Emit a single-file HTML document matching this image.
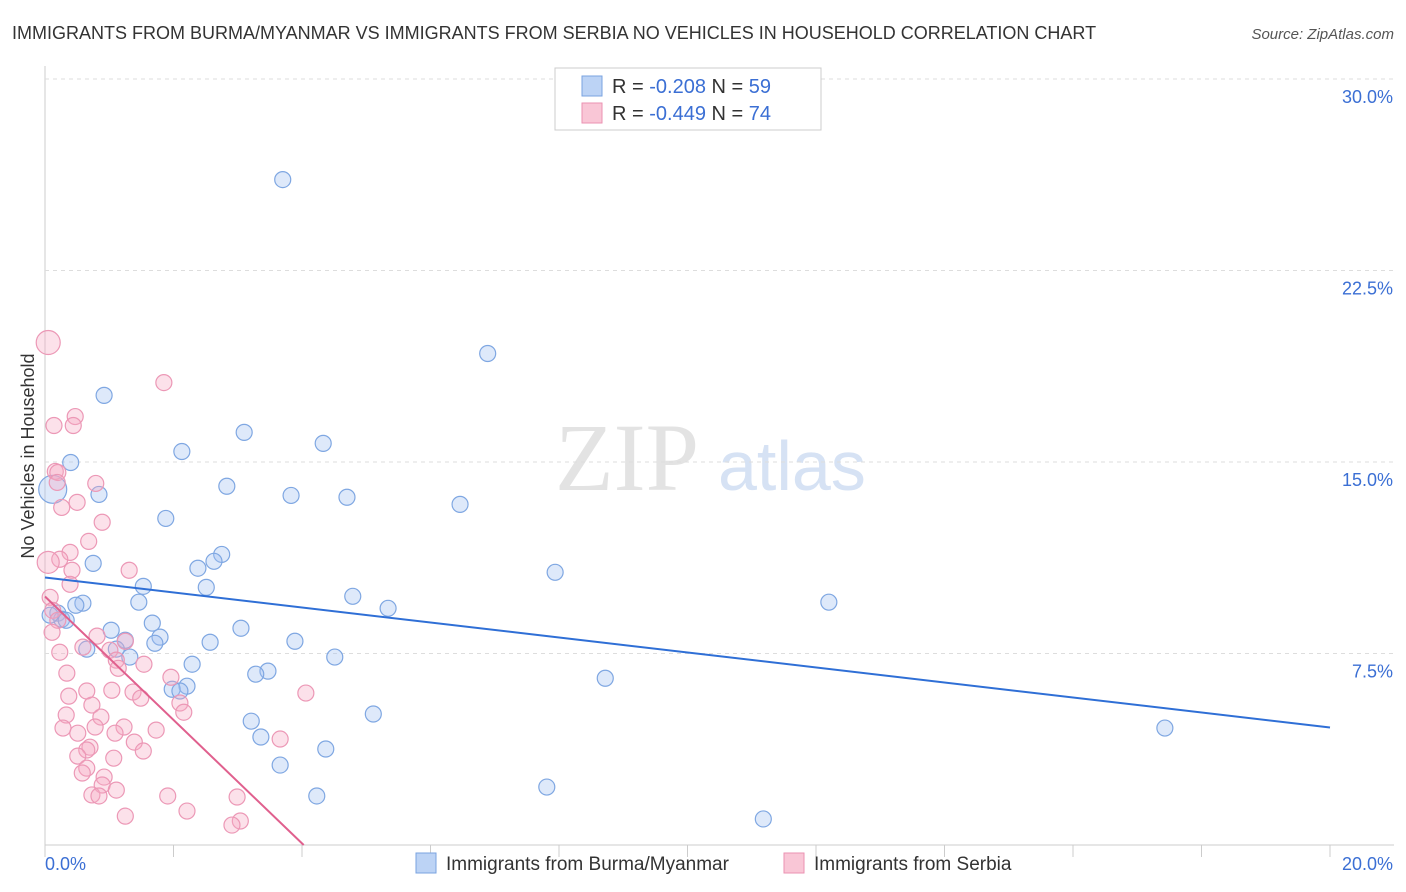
<!DOCTYPE html>
<html><head><meta charset="utf-8"><style>
body{margin:0;background:#fff;font-family:"Liberation Sans",sans-serif;}
#wrap{position:relative;width:1406px;height:892px;overflow:hidden}
</style></head><body>
<div id="wrap">
<svg id="chart" width="1406" height="892" style="position:absolute;left:0;top:0">
<text x="12" y="39" font-size="18" fill="#333">IMMIGRANTS FROM BURMA/MYANMAR VS IMMIGRANTS FROM SERBIA NO VEHICLES IN HOUSEHOLD CORRELATION CHART</text>
<text x="1394" y="39" font-size="15" fill="#555" font-style="italic" text-anchor="end">Source: ZipAtlas.com</text>
<text transform="translate(34,456) rotate(-90)" font-size="18" fill="#333" text-anchor="middle">No Vehicles in Household</text>
<g><text x="555" y="490" font-size="96" font-family="Liberation Serif,serif" fill="#e3e3e3">ZIP</text><text x="718" y="490" font-size="70" fill="#d6e2f4">atlas</text></g>
<g id="grid"></g><g id="marks"></g>
<g>
<rect x="555" y="68" width="266" height="62" fill="#fff" stroke="#ccc"/>
<rect x="582" y="76" width="20" height="20" fill="#bcd3f5" stroke="#7aa3e0"/>
<rect x="582" y="103" width="20" height="20" fill="#f9c6d6" stroke="#eb92b2"/>
<text x="612" y="93" font-size="20" fill="#333">R = <tspan fill="#3b6fd4">-0.208</tspan>   N = <tspan fill="#3b6fd4">59</tspan></text>
<text x="612" y="120" font-size="20" fill="#333">R = <tspan fill="#3b6fd4">-0.449</tspan>   N = <tspan fill="#3b6fd4">74</tspan></text>
</g>
<g>
<rect x="416" y="853" width="20" height="20" fill="#bcd3f5" stroke="#7aa3e0"/>
<text x="446" y="870" font-size="19" fill="#333">Immigrants from Burma/Myanmar</text>
<rect x="784" y="853" width="20" height="20" fill="#f9c6d6" stroke="#eb92b2"/>
<text x="814" y="870" font-size="19" fill="#333">Immigrants from Serbia</text>
</g>
</svg>
</div>
<script>
const yTicks=[7.5,15,22.5,30];
const yTickLabels=["7.5%","15.0%","22.5%","30.0%"];
const xTickLabels=["0.0%","20.0%"];
const burmaX=[3.70,6.89,0.92,3.10,4.33,2.13,0.40,2.83,0.84,3.83,4.70,6.46,1.88,2.75,2.63,0.75,2.38,7.94,1.53,2.51,4.79,0.59,1.46,0.48,12.20,5.34,0.20,0.26,0.33,1.67,1.03,3.05,1.25,1.79,2.57,3.89,1.71,0.65,1.11,1.32,4.51,2.29,3.47,3.28,8.72,2.21,1.98,2.10,5.11,3.21,3.36,4.37,3.66,7.81,4.23,11.18,17.43,0.12,0.08];
const burmaY=[26.06,19.25,17.61,16.16,15.73,15.41,14.98,14.05,13.73,13.69,13.62,13.34,12.79,11.38,11.11,11.03,10.84,10.68,10.13,10.09,9.74,9.47,9.51,9.39,9.51,9.27,9.08,8.84,8.80,8.69,8.41,8.49,8.02,8.14,7.94,7.98,7.90,7.67,7.67,7.36,7.36,7.08,6.81,6.69,6.53,6.22,6.10,6.03,5.13,4.85,4.23,3.76,3.13,2.27,1.92,1.02,4.58,13.93,9.00];
const burmaSize=burmaX.map((v,i)=>i===57?14:8);
const serbiaX=[0.05,1.85,0.47,0.14,0.44,0.16,0.20,0.79,0.19,0.50,0.26,0.89,0.68,0.39,0.23,0.05,0.42,1.31,0.39,0.08,0.12,0.20,0.11,0.81,1.25,0.59,1.01,0.23,1.11,1.54,1.14,0.34,1.96,0.65,1.37,1.04,0.37,4.06,1.49,2.10,0.73,2.16,0.33,0.87,1.23,0.28,0.78,1.73,0.51,1.09,3.66,1.39,0.70,0.65,1.53,0.51,1.07,0.65,0.58,0.92,0.89,1.11,0.73,0.84,1.91,2.99,2.21,1.25,3.04,2.91];
const serbiaY=[19.68,18.11,16.78,16.43,16.43,14.63,14.59,14.16,14.20,13.42,13.22,12.64,11.89,11.46,11.19,11.07,10.76,10.76,10.21,9.70,9.19,8.80,8.33,8.18,7.98,7.75,7.63,7.55,7.24,7.08,6.92,6.73,6.57,6.03,5.99,6.06,5.83,5.95,5.75,5.56,5.48,5.20,5.09,5.01,4.62,4.58,4.62,4.50,4.38,4.38,4.15,4.03,3.83,3.72,3.68,3.48,3.40,3.01,2.82,2.66,2.35,2.15,1.96,1.92,1.92,1.88,1.33,1.13,0.94,0.78];
const serbiaSize=serbiaX.map((v,i)=>i===0?12:(i===15?11:8));
const X0=45,X1=1330,Y0=845,YTOP=79;
const sx=v=>X0+(v/20)*(X1-X0);
const sy=v=>Y0-(v/30)*(Y0-YTOP);
const NS="http://www.w3.org/2000/svg";
function mk(tag,attrs,parent){const e=document.createElementNS(NS,tag);for(const k in attrs)e.setAttribute(k,attrs[k]);parent.appendChild(e);return e;}
const grid=document.getElementById('grid'),marks=document.getElementById('marks');
let ax=mk('line',{x1:X0,y1:66,x2:X0,y2:Y0,stroke:'#ccc'},grid);


let bx=mk('line',{x1:X0,y1:Y0,x2:1394,y2:Y0,stroke:'#ccc'},grid);


for(let i=0;i<=10;i++){const t=mk('line',{x1:sx(i*2),y1:Y0,x2:sx(i*2),y2:Y0+12,stroke:'#ccc'},grid);

}
yTicks.forEach((v,i)=>{const g=mk('line',{x1:X0,y1:sy(v),x2:1394,y2:sy(v),stroke:'#ddd','stroke-dasharray':'4,4'},grid);


const t=mk('text',{x:1393,y:sy(v)+24,'text-anchor':'end','font-size':18,fill:'#3b6fd4'},grid);t.textContent=yTickLabels[i];

});
[[0,'start',45],[20,'end',1393]].forEach((a,i)=>{const t=mk('text',{x:a[2],y:870,'text-anchor':a[1],'font-size':18,fill:'#3b6fd4'},grid);t.textContent=xTickLabels[i];

});
function pts(xs,ys,sz,fill,stroke,name){xs.forEach((x,i)=>{const c=mk('circle',{cx:sx(x),cy:sy(ys[i]),r:sz[i],fill:fill,stroke:stroke,'stroke-width':1.2},marks);

});}
pts(burmaX,burmaY,burmaSize,'rgba(160,192,240,0.35)','#7fa7e2','burma-point');
pts(serbiaX,serbiaY,serbiaSize,'rgba(246,168,194,0.35)','#ec98b6','serbia-point');
function reg(xs,ys){const n=xs.length;let mx=0,my=0;xs.forEach((x,i)=>{mx+=x;my+=ys[i];});mx/=n;my/=n;let a=0,b=0;xs.forEach((x,i)=>{a+=(x-mx)*(ys[i]-my);b+=(x-mx)*(x-mx);});const s=a/b;return [s,my-s*mx];}
const [bs,bi]=reg(burmaX,burmaY);
let bl=mk('line',{x1:sx(0),y1:sy(bi),x2:sx(20),y2:sy(bi+bs*20),stroke:'#2f6fd6','stroke-width':2},marks);


const [ps,pi]=reg(serbiaX,serbiaY);
const pxEnd=ps<0?Math.min(20,-pi/ps):20;
let pl=mk('line',{x1:sx(0),y1:sy(pi),x2:sx(pxEnd),y2:sy(pi+ps*pxEnd),stroke:'#e0608e','stroke-width':2},marks);


</script>
</body></html>
